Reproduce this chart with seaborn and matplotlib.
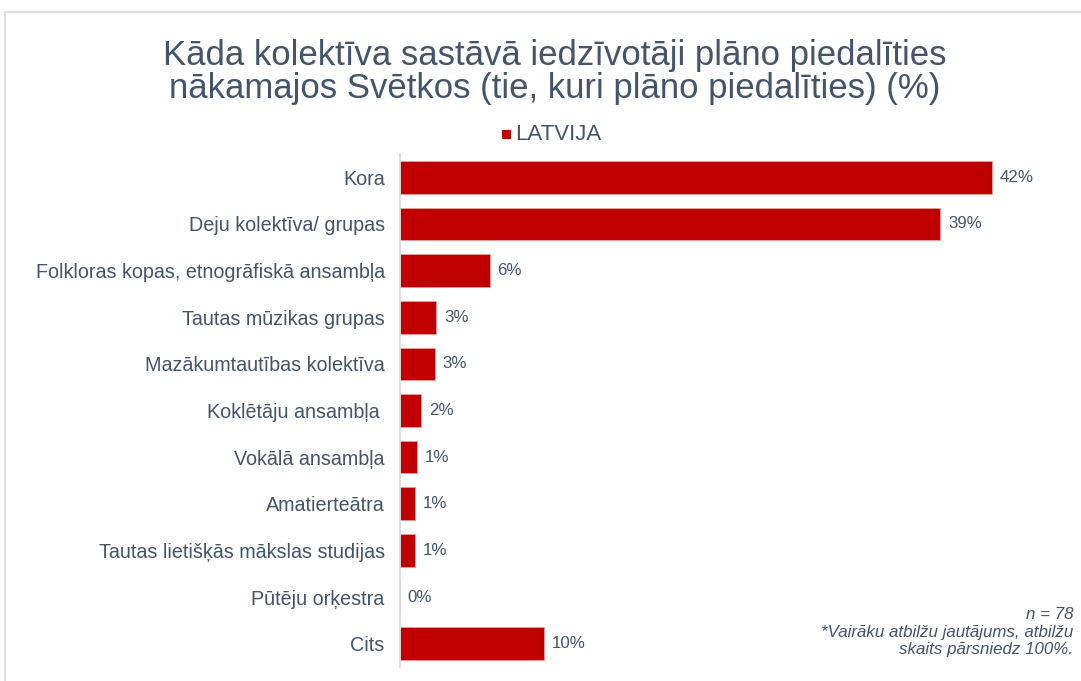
import matplotlib
matplotlib.use("Agg")
import matplotlib.pyplot as plt
import seaborn as sns
import pandas as pd
from matplotlib.patches import Rectangle

categories = [
    "Kora",
    "Deju kolektīva/ grupas",
    "Folkloras kopas, etnogrāfiskā ansambļa",
    "Tautas mūzikas grupas",
    "Mazākumtautības kolektīva",
    "Koklētāju ansambļa ",
    "Vokālā ansambļa",
    "Amatierteātra",
    "Tautas lietišķās mākslas studijas",
    "Pūtēju orķestra",
    "Cits",
]
values = [42.3, 38.6, 6.4, 2.6, 2.5, 1.5, 1.2, 1.1, 1.1, 0.0, 10.3]
labels = ["42%", "39%", "6%", "3%", "3%", "2%", "1%", "1%", "1%", "0%", "10%"]
series_name = "LATVIJA"
title = "Kāda kolektīva sastāvā iedzīvotāji plāno piedalīties\nnākamajos Svētkos (tie, kuri plāno piedalīties) (%)"
notes = "n = 78\n*Vairāku atbilžu jautājums, atbilžu\nskaits pārsniedz 100%."

df = pd.DataFrame({"cat": categories, "val": values})

sns.set_theme(style="white")
plt.rcParams["font.family"] = ["Liberation Sans", "DejaVu Sans"]

TEXT = "#44546A"
RED = "#C00000"

fig = plt.figure(figsize=(10.81, 6.81), dpi=100)
fig.patch.set_facecolor("white")
# frame
fig.patches.append(Rectangle((5 / 1081, -0.05), 1.2, 1 - 12 / 681 + 0.05, transform=fig.transFigure,
                             fill=False, edgecolor="#D9D9D9", linewidth=1.2))

ax = fig.add_axes([400 / 1081, 1 - 667 / 681, 630 / 1081, (667 - 154) / 681])
sns.barplot(data=df, y="cat", x="val", orient="h", color=RED, width=0.7,
            edgecolor="#E8A0A0", linewidth=0.6, saturation=1, ax=ax)
ax.set_xlim(0, 45)
ax.set_ylim(10.5, -0.5)
ax.set_xlabel("")
ax.set_ylabel("")
ax.set_xticks([])
for s in ["top", "right", "bottom"]:
    ax.spines[s].set_visible(False)
ax.spines["left"].set_color("#D9D9D9")
ax.spines["left"].set_linewidth(1.2)
ax.tick_params(axis="y", length=0, pad=11, labelsize=14.2, labelcolor=TEXT)

for i, (v, lab) in enumerate(zip(values, labels)):
    ax.text(v + 0.55, i, lab, va="center", ha="left", fontsize=12.2, color=TEXT)

fig.text(555 / 1081, 1 - 72 / 681, title, ha="center", va="center", fontsize=25,
         color=TEXT, linespacing=1.03)

# legend
fig.patches.append(Rectangle((502 / 1081, 1 - 139 / 681), 9 / 1081, 9 / 681,
                             transform=fig.transFigure, facecolor=RED, edgecolor="none"))
fig.text(515 / 1081, 1 - 134 / 681, series_name, ha="left", va="center", fontsize=16, color=TEXT)

fig.text(1073 / 1081, 1 - 632 / 681, notes, ha="right", va="center", fontsize=12.2,
         color=TEXT, style="italic", linespacing=1.22)

fig.savefig("out.png", dpi=100, facecolor="white")
